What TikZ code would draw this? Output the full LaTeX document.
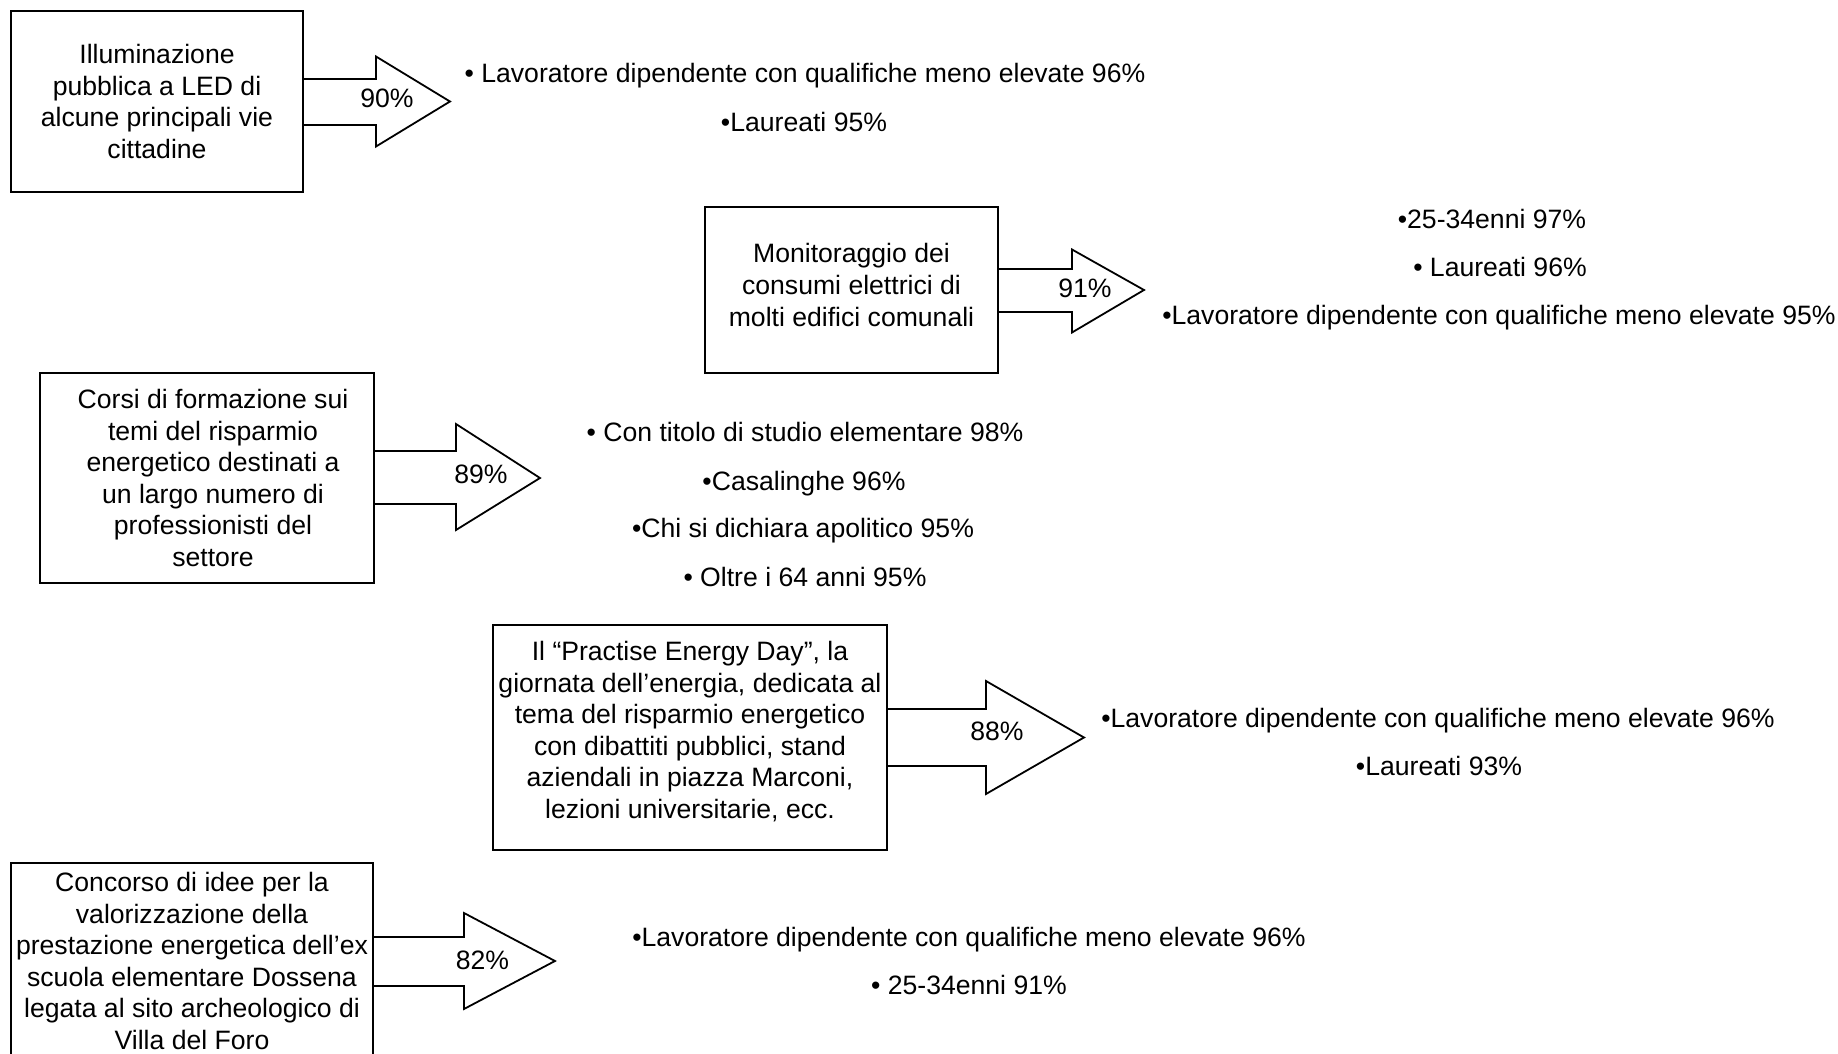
\documentclass[tikz,border=0pt]{standalone}
\usepackage{fontspec}
\setmainfont{Liberation Sans}
\usetikzlibrary{calc}
\newcommand{\diagfont}{\fontsize{13.3}{15.8}\selectfont}
\tikzset{
  box/.style={draw, line width=0.9pt, fill=white, align=center, inner sep=0pt, font=\diagfont},
  blk/.style={draw, line width=0.9pt, line join=miter},
  pct/.style={font=\diagfont, inner sep=0pt, anchor=center},
  bul/.style={font=\diagfont, inner sep=0pt, anchor=base}
}
\begin{document}
\begin{tikzpicture}[x=0.5pt,y=-0.5pt]
\useasboundingbox (0,0) rectangle (1838,1054);
\clip (0,0) rectangle (1838,1054);
\fill[white] (0,0) rectangle (1838,1054);

% boxes
\node[box, minimum width=146pt, minimum height=90.5pt] (b1) at (157,101.5)
  {Illuminazione\\pubblica a LED di\\alcune principali vie\\cittadine};
\node[box, minimum width=146.5pt, minimum height=83pt] (b2) at (851.5,290)
  {\raisebox{-1.1pt}[0pt][0pt]{\parbox{140pt}{\centering Monitoraggio dei\\consumi elettrici di\\molti edifici comunali}}};
\node[box, minimum width=167pt, minimum height=105pt] (b3) at (207,478)
  {\hspace*{6pt}\parbox{160pt}{\centering Corsi di formazione sui\\temi del risparmio\\energetico destinati a\\un largo numero di\\professionisti del\\settore}};
\node[box, minimum width=197pt, minimum height=112.5pt] (b4) at (690,737.5)
  {\raisebox{-0.6pt}[0pt][0pt]{\parbox{196pt}{\centering Il “Practise Energy Day”, la\\giornata dell’energia, dedicata al\\tema del risparmio energetico\\con dibattiti pubblici, stand\\aziendali in piazza Marconi,\\lezioni universitarie, ecc.}}};
\node[box, minimum width=181pt, minimum height=98pt] (b5) at (192,961)
  {Concorso di idee per la\\valorizzazione della\\prestazione energetica dell’ex\\scuola elementare Dossena\\legata al sito archeologico di\\Villa del Foro};

% arrow tips
\coordinate (t1) at (450,101.5);
\coordinate (t2) at (1144,290);
\coordinate (t3) at (540,478);
\coordinate (t4) at (1084,737.5);
\coordinate (t5) at (555,961);

% block arrows
\draw[blk] ($(b1.east)+(0,-22.5)$) -| (376,56.5) -- (t1) -- (376,146.5) |- ($(b1.east)+(0,23.5)$);
\draw[blk] ($(b2.east)+(0,-21)$) -| (1072,249.5) -- (t2) -- (1072,332.5) |- ($(b2.east)+(0,22)$);
\draw[blk] ($(b3.east)+(0,-27)$) -| (456,424) -- (t3) -- (456,530) |- ($(b3.east)+(0,26)$);
\draw[blk] ($(b4.east)+(0,-28.5)$) -| (986,681) -- (t4) -- (986,794) |- ($(b4.east)+(0,28.5)$);
\draw[blk] ($(b5.east)+(0,-24)$) -| (464,913) -- (t5) -- (464,1009) |- ($(b5.east)+(0,25)$);

% percentages
\node[pct] (p1) at (387,98) {90\%};
\node[pct] (p2) at (1085,288) {91\%};
\node[pct] (p3) at (481,474) {89\%};
\node[pct] (p4) at (997,731) {88\%};
\node[pct] (p5) at (482.5,960) {82\%};

% bullet texts
\node[bul] (g1a) at (805,82.5) {• Lavoratore dipendente con qualifiche meno elevate 96\%};
\node[bul] (g1b) at (804,131.5) {•Laureati 95\%};

\node[bul] (g2a) at (1492,228.5) {•25-34enni 97\%};
\node[bul] (g2b) at (1500,276.5) {• Laureati 96\%};
\node[bul] (g2c) at (1499,324.5) {•Lavoratore dipendente con qualifiche meno elevate 95\%};

\node[bul] (g3a) at (805,441.5) {• Con titolo di studio elementare 98\%};
\node[bul] (g3b) at (804,490.5) {•Casalinghe 96\%};
\node[bul] (g3c) at (803,537.5) {•Chi si dichiara apolitico 95\%};
\node[bul] (g3d) at (805,586.5) {• Oltre i 64 anni 95\%};

\node[bul] (g4a) at (1438,727) {•Lavoratore dipendente con qualifiche meno elevate 96\%};
\node[bul] (g4b) at (1439,775) {•Laureati 93\%};

\node[bul] (g5a) at (969,946.5) {•Lavoratore dipendente con qualifiche meno elevate 96\%};
\node[bul] (g5b) at (969,994.5) {• 25-34enni 91\%};
\end{tikzpicture}
\end{document}
